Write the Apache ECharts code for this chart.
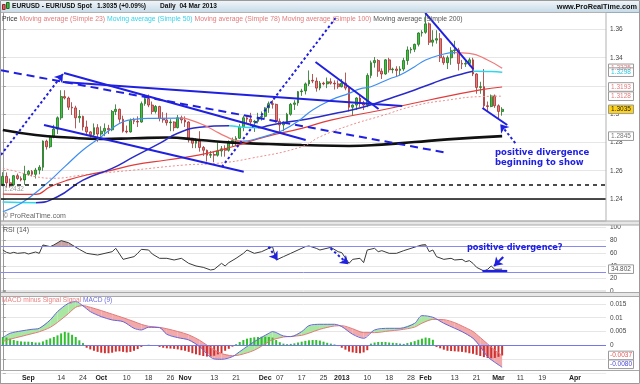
<!DOCTYPE html>
<html><head><meta charset="utf-8"><title>EURUSD</title>
<script src="https://cdn.jsdelivr.net/npm/echarts/dist/echarts.min.js"></script>
<style>html,body{margin:0;padding:0;background:#fff;}#chart{width:640px;height:384px;}</style>
</head><body><div id="chart"></div>
<script>
// ================= DATA =================
const monthDays = [
  ['2012-08',[23,24,27,28,29,30,31]],
  ['2012-09',[3,4,5,6,7,10,11,12,13,14,17,18,19,20,21,24,25,26,27,28]],
  ['2012-10',[1,2,3,4,5,8,9,10,11,12,15,16,17,18,19,22,23,24,25,26,29,30,31]],
  ['2012-11',[1,2,5,6,7,8,9,12,13,14,15,16,19,20,21,22,23,26,27,28,29,30]],
  ['2012-12',[3,4,5,6,7,10,11,12,13,14,17,18,19,20,21,24,25,26,27,28,31]],
  ['2013-01',[1,2,3,4,7,8,9,10,11,14,15,16,17,18,21,22,23,24,25,28,29,30,31]],
  ['2013-02',[1,4,5,6,7,8,11,12,13,14,15,18,19,20,21,22,25,26,27,28]],
  ['2013-03',[1,4,5,6,7,8,11,12,13,14,15,18,19,20,21,22,25,26,27,28,29]],
  ['2013-04',[1,2,3,4,5,8,9,10,11]]
];
const tickDates = ['2012-09-03','2012-09-14','2012-09-24','2012-10-01','2012-10-10','2012-10-18','2012-10-26','2012-11-01','2012-11-13','2012-11-21','2012-12-03','2012-12-07','2012-12-17','2012-12-25','2013-01-01','2013-01-10','2013-01-18','2013-01-28','2013-02-01','2013-02-13','2013-02-21','2013-03-01','2013-03-11','2013-03-19','2013-04-01'];
const tickTexts = ['Sep','14','24','Oct','10','18','26','Nov','13','21','Dec','07','17','25','2013','10','18','28','Feb','13','21','Mar','11','19','Apr'];

// daily candles [open, high, low, close]
const ohlc = [
  // Aug
  [1.2505,1.2590,1.2490,1.2560],[1.2560,1.2588,1.2480,1.2515],[1.2515,1.2545,1.2480,1.2500],[1.2500,1.2570,1.2490,1.2565],
  [1.2565,1.2580,1.2535,1.2545],[1.2545,1.2560,1.2525,1.2535],[1.2535,1.2635,1.2500,1.2575],
  // Sep
  [1.2575,1.2605,1.2565,1.2595],[1.2595,1.2605,1.2560,1.2575],[1.2575,1.2620,1.2545,1.2605],[1.2605,1.2640,1.2575,1.2625],
  [1.2625,1.2815,1.2600,1.2810],[1.2810,1.2820,1.2750,1.2770],[1.2770,1.2850,1.2760,1.2840],[1.2840,1.2925,1.2830,1.2895],
  [1.2895,1.2985,1.2860,1.2975],[1.2975,1.3170,1.2960,1.3125],[1.3125,1.3170,1.3105,1.3115],[1.3115,1.3125,1.3030,1.3050],
  [1.3050,1.3085,1.2995,1.3045],[1.3045,1.3060,1.2900,1.2975],[1.2975,1.3030,1.2940,1.2985],[1.2985,1.2990,1.2885,1.2910],
  [1.2910,1.2955,1.2860,1.2875],[1.2875,1.2880,1.2835,1.2855],[1.2855,1.2935,1.2840,1.2905],[1.2905,1.2930,1.2805,1.2860],
  // Oct
  [1.2860,1.2915,1.2830,1.2880],[1.2880,1.2935,1.2845,1.2900],[1.2900,1.2925,1.2860,1.2890],[1.2890,1.3030,1.2880,1.3020],
  [1.3020,1.3070,1.2995,1.3035],[1.3035,1.3040,1.2940,1.2965],[1.2965,1.2990,1.2870,1.2880],[1.2880,1.2920,1.2865,1.2875],
  [1.2875,1.2970,1.2870,1.2955],[1.2955,1.2975,1.2930,1.2950],[1.2950,1.2985,1.2910,1.2945],[1.2945,1.3090,1.2940,1.3075],
  [1.3075,1.3140,1.3060,1.3110],[1.3110,1.3140,1.3050,1.3065],[1.3065,1.3090,1.3000,1.3020],[1.3020,1.3065,1.3005,1.3055],
  [1.3055,1.3060,1.2950,1.2970],[1.2970,1.3015,1.2940,1.2960],[1.2960,1.3010,1.2920,1.2940],[1.2940,1.2965,1.2880,1.2945],
  [1.2945,1.2950,1.2880,1.2905],[1.2905,1.2995,1.2900,1.2975],[1.2975,1.2990,1.2935,1.2960],
  // Nov
  [1.2960,1.2985,1.2910,1.2945],[1.2945,1.2950,1.2800,1.2830],[1.2830,1.2830,1.2760,1.2795],[1.2795,1.2830,1.2760,1.2810],
  [1.2810,1.2880,1.2735,1.2765],[1.2765,1.2775,1.2705,1.2745],[1.2745,1.2750,1.2665,1.2710],[1.2710,1.2740,1.2690,1.2715],
  [1.2715,1.2735,1.2660,1.2710],[1.2710,1.2800,1.2700,1.2740],[1.2740,1.2775,1.2700,1.2755],[1.2755,1.2780,1.2700,1.2745],
  [1.2745,1.2815,1.2735,1.2805],[1.2805,1.2835,1.2770,1.2815],[1.2815,1.2845,1.2775,1.2830],[1.2830,1.2930,1.2825,1.2910],
  [1.2910,1.2990,1.2880,1.2975],[1.2975,1.2990,1.2935,1.2965],[1.2965,1.3010,1.2915,1.2945],[1.2945,1.2960,1.2875,1.2950],
  [1.2950,1.3010,1.2935,1.2980],[1.2980,1.3020,1.2955,1.2985],
  // Dec
  [1.2985,1.3050,1.2975,1.3045],[1.3045,1.3090,1.3010,1.3075],[1.3075,1.3100,1.3040,1.3070],[1.3070,1.3075,1.2940,1.2950],
  [1.2950,1.2970,1.2875,1.2925],[1.2925,1.2950,1.2880,1.2940],[1.2940,1.3010,1.2930,1.3000],[1.3000,1.3080,1.2990,1.3070],
  [1.3070,1.3100,1.3030,1.3080],[1.3080,1.3165,1.3060,1.3160],[1.3160,1.3180,1.3130,1.3165],[1.3165,1.3225,1.3140,1.3215],
  [1.3215,1.3310,1.3200,1.3240],[1.3240,1.3285,1.3220,1.3235],[1.3235,1.3260,1.3160,1.3185],[1.3185,1.3235,1.3170,1.3220],
  [1.3220,1.3230,1.3205,1.3215],[1.3215,1.3260,1.3185,1.3230],[1.3230,1.3255,1.3210,1.3220],[1.3220,1.3240,1.3175,1.3215],
  [1.3215,1.3240,1.3180,1.3195],
  // Jan
  [1.3195,1.3250,1.3190,1.3220],[1.3220,1.3295,1.3170,1.3185],[1.3185,1.3195,1.3020,1.3050],[1.3050,1.3070,1.2995,1.3065],
  [1.3065,1.3120,1.3030,1.3115],[1.3115,1.3135,1.3050,1.3080],[1.3080,1.3095,1.3030,1.3065],[1.3065,1.3290,1.3050,1.3275],
  [1.3275,1.3380,1.3255,1.3365],[1.3365,1.3405,1.3330,1.3380],[1.3380,1.3390,1.3265,1.3305],[1.3305,1.3325,1.3250,1.3285],
  [1.3285,1.3390,1.3280,1.3385],[1.3385,1.3400,1.3295,1.3315],[1.3315,1.3330,1.3290,1.3320],[1.3320,1.3340,1.3265,1.3310],
  [1.3310,1.3340,1.3275,1.3320],[1.3320,1.3400,1.3305,1.3380],[1.3380,1.3480,1.3350,1.3455],[1.3455,1.3475,1.3430,1.3460],
  [1.3460,1.3500,1.3440,1.3495],[1.3495,1.3580,1.3480,1.3575],[1.3575,1.3595,1.3550,1.3580],
  // Feb
  [1.3580,1.3711,1.3570,1.3640],[1.3640,1.3650,1.3490,1.3510],[1.3510,1.3595,1.3480,1.3525],[1.3525,1.3595,1.3500,1.3535],
  [1.3535,1.3575,1.3370,1.3400],[1.3400,1.3415,1.3350,1.3365],[1.3365,1.3415,1.3320,1.3400],[1.3400,1.3475,1.3350,1.3450],
  [1.3450,1.3520,1.3425,1.3455],[1.3455,1.3470,1.3310,1.3360],[1.3360,1.3385,1.3320,1.3355],[1.3355,1.3380,1.3335,1.3360],
  [1.3360,1.3400,1.3340,1.3385],[1.3385,1.3400,1.3270,1.3285],[1.3285,1.3290,1.3145,1.3190],[1.3190,1.3230,1.3145,1.3195],
  [1.3195,1.3320,1.3040,1.3060],[1.3060,1.3090,1.3020,1.3055],[1.3055,1.3140,1.3050,1.3130],[1.3130,1.3140,1.3045,1.3060],
  // Mar
  [1.3060,1.3070,1.2965,1.3020],[1.3020,1.3050,1.2990,1.3035]
];

// moving averages: [day index, value]
const sma23 = [[0,1.2310],[5,1.2370],[11,1.2487],[17,1.2629],[22,1.2747],[27,1.2841],[30,1.2901],[33,1.2947],[36,1.2964],[41,1.2971],[49,1.2973],[52,1.2955],[55,1.2925],[58,1.2885],[61,1.2845],[64,1.2815],[66,1.2810],[70,1.2830],[74,1.2860],[77,1.2889],[81,1.2950],[85,1.3030],[90,1.3100],[95,1.3148],[98,1.3180],[101,1.3195],[106,1.3250],[109,1.3278],[113,1.3337],[116,1.3384],[120,1.3419],[124,1.3436],[128,1.3431],[133,1.3384],[137,1.3325]];
const sma23Falling = [[49,66],[124,137]];
const sma50 = [[0,1.2378],[9,1.2374],[15,1.2416],[22,1.2534],[30,1.2617],[36,1.2700],[43,1.2794],[48,1.2865],[54,1.2908],[62,1.2918],[66,1.2908],[70,1.2905],[73,1.2920],[78,1.2945],[82,1.2959],[85,1.2973],[92,1.3010],[99,1.3051],[106,1.3110],[113,1.3172],[118,1.3220],[122,1.3257],[126,1.3285],[130,1.3305],[134,1.3302],[137,1.3298]];
const sma50Falling = [[0,9],[62,70],[129,137]];
const sma78 = [[0,1.2435],[9,1.2433],[13,1.2487],[18,1.2535],[23,1.2570],[30,1.2605],[36,1.2641],[45,1.2676],[54,1.2712],[63,1.2770],[72,1.2840],[82,1.2900],[90,1.2959],[104,1.3030],[117,1.3101],[131,1.3172],[137,1.3193]];
const sma100 = [[0,1.2617],[4,1.2593],[9,1.2558],[14,1.2547],[22,1.2570],[36,1.2605],[50,1.2641],[59,1.2653],[68,1.2688],[82,1.2770],[87,1.2840],[95,1.2920],[104,1.2990],[113,1.3060],[122,1.3100],[131,1.3125],[137,1.3128]];
const sma200 = [[0,1.2888],[9,1.2853],[18,1.2835],[27,1.2825],[36,1.2830],[45,1.2835],[54,1.2818],[63,1.2799],[73,1.2789],[82,1.2782],[95,1.2775],[104,1.2785],[113,1.2803],[122,1.2822],[137,1.2845]];

// horizontal levels and hand-drawn trend lines (day index, price)
const levelDashed = 1.2522;
const levelSolid = 1.2433;
const trendSolid = [
  [[16.5,1.3228],[109.6,1.3058]],
  [[16.8,1.3292],[83.1,1.2818]],
  [[11.3,1.2924],[66.1,1.2593]],
  [[85.8,1.3370],[103.1,1.3037]],
  [[115.9,1.3717],[129.1,1.3320]],
  [[131.6,1.3044],[138.4,1.2924]]
];
const trendDashed = [[[-0.49,1.3311],[122.0,1.2726]]];
const trendDotted = [[[60.1,1.2627],[91.3,1.3681]]];
const trendDottedArrow = [[[-0.49,1.2712],[16.5,1.3285]],[[140.6,1.2796],[136.5,1.2930]]];

// RSI(14)
const rsi = [[0,64.5],[1,60.9],[2,59.3],[3,60.9],[4,59.3],[6,60.4],[7,58.3],[9,61.4],[10,59.3],[11,72.3],[13,69.7],[14,72.3],[16,79.0],[18,75.9],[19,72.3],[21,65.5],[23,59.3],[26,56.7],[30,61.9],[31,67.1],[33,50.0],[36,54.2],[37,59.3],[38,65.5],[40,64.5],[41,58.3],[43,51.6],[45,51.6],[47,49.0],[49,51.6],[51,43.8],[53,39.7],[55,37.6],[57,33.5],[58,34.5],[60,43.8],[61,39.7],[62,44.9],[64,51.6],[66,59.3],[67,64.5],[69,59.3],[71,61.9],[73,67.1],[74,69.7],[75,49.0],[77,54.2],[79,59.3],[81,64.5],[83,69.7],[84,70.7],[86,67.1],[87,64.5],[90,68.6],[92,61.9],[93,60.4],[95,43.8],[96,50.0],[98,51.6],[99,44.9],[100,64.5],[102,67.1],[103,61.9],[104,63.5],[106,59.3],[108,59.3],[110,63.5],[112,67.1],[114,70.7],[115,72.3],[116,72.8],[117,61.9],[118,64.5],[119,54.2],[121,50.0],[123,51.6],[124,49.0],[126,50.0],[127,46.4],[128,48.0],[129,43.8],[130,37.6],[132,31.9],[133,34.5],[134,39.7],[135,34.5],[137,34.802]];
const rsiLevels = [70, 30];
const rsiDottedArrow = [[[72.9,69.6],[75.4,49.0]],[[89.9,67.1],[94.8,42.3]]];
const rsiSolidArrow = [[[137.3,53.6],[134.8,39.7]]];
const rsiFlat = [[[131.6,31.9],[138.4,31.9]]];

// MACD (in thousandths)
const macdIdx =    [0,2,5,8,10,13,15,18,20,22,24,27,30,33,36,38,40,43,45,48,51,54,58,60,63,65,69,73,74,77,79,82,84,87,91,93,96,99,102,106,109,113,115,118,121,124,126,129,131,133,135,137];
const macdLine =   [2.77,4.35,5.19,5.80,6.16,9.19,12.22,15.24,15.85,14.3,12.22,10.4,9.19,8.58,6.16,5.56,6.53,6.40,3.98,2.77,1.93,-0.50,-4.98,-5.10,-4.13,-2.31,1.32,4.35,4.95,3.38,3.14,4.95,7.13,7.62,7.62,6.77,3.98,2.53,5.56,6.16,6.16,7.98,10.76,10.16,7.98,6.16,4.95,2.53,-0.50,-4.13,-6.19,-8.0];
const signalLine = [1.32,2.2,3.2,4.2,4.9,6.5,8.3,11.5,13.8,14.4,13.8,12.6,11.3,10.0,8.6,7.6,6.9,6.5,6.0,5.0,3.8,1.8,-1.7,-3.0,-3.8,-3.5,-1.8,1.3,2.0,3.0,3.2,3.6,4.4,5.8,7.0,7.1,6.0,4.6,4.6,5.2,5.6,6.6,8.0,9.4,9.3,8.2,7.0,5.0,2.8,0.5,-1.8,-3.7];
const macdHist = [
  3.0,2.8,2.4,1.9,1.6,1.4,1.3,
  1.3,1.2,1.0,1.0,1.4,2.0,2.5,3.0,3.6,4.3,4.9,4.6,3.8,3.0,1.8,0.8,-0.9,-1.5,-2.0,-2.4,
  -2.7,-2.9,-2.9,-2.7,-2.3,-2.2,-2.4,-2.6,-2.4,-2.0,-1.4,-0.6,-0.1,0.2,0.1,-0.2,-0.6,-0.9,-1.1,-1.2,-1.3,-1.5,-1.8,
  -2.0,-2.4,-2.9,-3.3,-3.6,-3.9,-4.1,-4.1,-3.8,-3.3,-2.8,-2.0,-1.3,-0.5,0.4,1.2,1.9,2.4,2.7,2.9,3.0,3.1,
  3.1,3.0,2.8,1.9,1.1,0.6,0.4,0.5,0.7,1.0,1.3,1.6,1.8,1.9,1.9,1.7,1.3,0.9,0.6,0.3,-0.3,
  -0.9,-1.6,-2.3,-2.6,-2.8,-2.9,-2.6,-1.8,0.6,1.0,1.2,1.2,1.2,1.0,0.9,0.8,0.6,0.5,0.8,1.1,1.5,2.0,2.4,
  2.8,2.6,2.0,-0.6,-1.1,-1.6,-2.0,-2.1,-2.2,-2.3,-2.4,-2.6,-2.9,-3.1,-3.5,-3.9,-4.3,-4.6,-4.7,-4.6,
  -4.2,-3.7
];

// ================= BUILD =================
const FONT = "'Liberation Sans', Arial, sans-serif";
const BLUE = '#2020e0';
const dates = [];
monthDays.forEach(([m, ds]) => ds.forEach(d => dates.push(m + '-' + String(d).padStart(2, '0'))));
const N = dates.length;
const candleData = ohlc.map(([o, h, l, c]) => [o, c, l, h]);
const last = arr => arr[arr.length - 1];

function rangesToPieces(ranges, up, down) {
  const pieces = []; let cur = -1000;
  ranges.forEach(([a, b]) => {
    if (a > cur) pieces.push({ gt: cur, lt: a, color: up });
    pieces.push({ gte: a, lte: b, color: down });
    cur = b;
  });
  pieces.push({ gt: cur, lte: 1000, color: up });
  return pieces;
}
const segs = (pairs, arrow) => pairs.map(([a, b]) => [{ coord: a, symbol: 'none' }, { coord: b, symbol: arrow ? 'arrow' : 'none', symbolSize: 8 }]);
const mk = (data, lineStyle) => ({ silent: true, animation: false, symbol: 'none', symbolSize: 8, label: { show: false }, emphasis: { disabled: true }, lineStyle, data });

const catAxis = (gi, showLabels) => ({
  type: 'category', gridIndex: gi, data: dates, boundaryGap: true,
  axisLine: { show: false }, axisTick: { show: false }, splitLine: { show: false },
  axisLabel: showLabels ? {
    show: true, hideOverlap: false, fontSize: 7, color: '#333', margin: 2,
    interval: (i, v) => tickDates.indexOf(v) >= 0,
    formatter: v => { const t = tickTexts[tickDates.indexOf(v)]; return /^[A-Z]|2013/.test(t) ? '{m|' + t + '}' : t; },
    rich: { m: { fontWeight: 'bold', fontSize: 7, color: '#222', fontFamily: FONT } }
  } : { show: false }
});
const valAxis = gi => ({ type: 'value', gridIndex: gi, min: -0.5, max: N - 0.5, show: false, splitLine: { show: false } });
const yAx = (gi, min, max, interval, fmt) => ({
  type: 'value', gridIndex: gi, position: 'right', min, max, interval,
  axisLine: { show: true, lineStyle: { color: '#9a9a9a' } },
  axisTick: { show: true, length: 3, lineStyle: { color: '#9a9a9a' } },
  axisLabel: { fontSize: 6.5, color: '#444', margin: 4, formatter: fmt, hideOverlap: false },
  splitLine: { show: true, lineStyle: { color: '#e6e6e6', width: 1 } }
});

const series = [];
const push = s => { series.push(s); return series.length - 1; };

// price panel
push({ type: 'candlestick', xAxisIndex: 0, yAxisIndex: 0, data: candleData, barWidth: 2.3, z: 3, silent: true,
  itemStyle: { color: '#3ac83a', color0: '#ee7b7b', borderColor: '#226f22', borderColor0: '#a03030', borderWidth: 0.8 } });
const lineS = (data, ls, z, extra) => Object.assign({ type: 'line', xAxisIndex: 1, yAxisIndex: 0, data, showSymbol: false, smooth: true, silent: true, z, lineStyle: ls }, extra || {});
push(lineS(sma200, { color: '#111', width: 2.6 }, 4));
push(lineS(sma100, { color: '#ef8c8c', width: 1, type: [2, 2] }, 4));
push(lineS(sma78, { color: '#e23b3b', width: 1.2 }, 4));
const iSma50 = push(lineS(sma50, { width: 1.5 }, 4));
const iSma23 = push(lineS(sma23, { width: 1.2 }, 4));
push(lineS([], {}, 6, { markLine: mk([
  { yAxis: levelDashed, lineStyle: { color: '#111', width: 1.5, type: [4, 4] } },
  { yAxis: levelSolid, lineStyle: { color: '#111', width: 1.5, type: 'solid' } },
  ...segs(trendSolid, false)
], { color: BLUE, width: 2, type: 'solid' }) }));
push(lineS([], {}, 6, { markLine: mk(segs(trendDashed, false), { color: BLUE, width: 2, type: [8, 5] }) }));
push(lineS([], {}, 6, { markLine: mk([...segs(trendDotted, false), ...segs(trendDottedArrow, true)], { color: BLUE, width: 2, type: [2.5, 2.5] }) }));

// RSI panel
const rsiSegs = [];
for (let i = 0; i < rsi.length - 1; i++) rsiSegs.push([rsi[i][0], rsi[i][1], rsi[i + 1][0], rsi[i + 1][1]]);
push({ type: 'custom', coordinateSystem: 'cartesian2d', xAxisIndex: 3, yAxisIndex: 1, z: 2, silent: true,
  dimensions: ['x0', 'r0', 'x1', 'r1'], encode: { x: [0, 2], y: [1, 3] }, data: rsiSegs,
  renderItem: (p, api) => {
    const x0 = api.value(0), r0 = api.value(1), x1 = api.value(2), r1 = api.value(3), L = rsiLevels[0];
    if (r0 <= L && r1 <= L) return null;
    let pts;
    if (r0 >= L && r1 >= L) pts = [[x0, r0], [x1, r1], [x1, L], [x0, L]];
    else if (r0 > L) { const xc = x0 + (r0 - L) / (r0 - r1) * (x1 - x0); pts = [[x0, r0], [xc, L], [x0, L]]; }
    else { const xc = x0 + (L - r0) / (r1 - r0) * (x1 - x0); pts = [[xc, L], [x1, r1], [x1, L]]; }
    return { type: 'polygon', shape: { points: pts.map(q => api.coord(q)) }, style: { fill: '#c9a4a4' } };
  } });
push({ type: 'line', xAxisIndex: 3, yAxisIndex: 1, data: rsi, showSymbol: false, silent: true, z: 3,
  lineStyle: { color: '#3a3a3a', width: 1 },
  markLine: mk(rsiLevels.map(v => ({ yAxis: v })), { color: '#8a8aee', width: 1, type: 'solid' }) });
push({ type: 'line', xAxisIndex: 3, yAxisIndex: 1, data: [], z: 6, markLine: mk(segs(rsiDottedArrow, true), { color: BLUE, width: 2, type: [2.5, 2.5] }) });
push({ type: 'line', xAxisIndex: 3, yAxisIndex: 1, data: [], z: 6, markLine: mk([...segs(rsiSolidArrow, true), ...segs(rsiFlat, false)], { color: BLUE, width: 2.2, type: 'solid' }) });

// MACD panel
const macdSegs = [];
for (let i = 0; i < macdIdx.length - 1; i++) macdSegs.push([macdIdx[i], macdLine[i], signalLine[i], macdIdx[i + 1], macdLine[i + 1], signalLine[i + 1]]);
push({ type: 'custom', coordinateSystem: 'cartesian2d', xAxisIndex: 5, yAxisIndex: 2, z: 1, silent: true,
  dimensions: ['x0', 'm0', 's0', 'x1', 'm1', 's1'], encode: { x: [0, 3], y: [1, 2, 4, 5] }, data: macdSegs,
  renderItem: (p, api) => {
    const x0 = api.value(0), m0 = api.value(1), s0 = api.value(2), x1 = api.value(3), m1 = api.value(4), s1 = api.value(5);
    const d0 = m0 - s0, d1 = m1 - s1, P = (x, y) => api.coord([x, y]);
    const GREEN = '#a9e7a2', PINK = '#f1a9a9';
    const polys = [];
    if (d0 * d1 < 0) {
      const t = d0 / (d0 - d1), xc = x0 + t * (x1 - x0), yc = m0 + t * (m1 - m0);
      polys.push({ pts: [P(x0, m0), P(xc, yc), P(x0, s0)], up: d0 > 0 });
      polys.push({ pts: [P(xc, yc), P(x1, m1), P(x1, s1)], up: d1 > 0 });
    } else polys.push({ pts: [P(x0, m0), P(x1, m1), P(x1, s1), P(x0, s0)], up: d0 + d1 > 0 });
    return { type: 'group', children: polys.map(q => ({ type: 'polygon', shape: { points: q.pts }, style: { fill: q.up ? GREEN : PINK } })) };
  } });
push({ type: 'bar', xAxisIndex: 4, yAxisIndex: 2, data: macdHist, barWidth: 2, z: 2, silent: true,
  itemStyle: { color: p => p.value >= 0 ? '#2fbf2f' : '#cf3232' },
  markLine: mk([{ yAxis: 0 }], { color: '#7676ea', width: 1, type: 'solid' }) });
push({ type: 'line', xAxisIndex: 5, yAxisIndex: 2, data: macdIdx.map((x, i) => [x, signalLine[i]]), showSymbol: false, smooth: 0.3, silent: true, z: 3, lineStyle: { color: '#e47a7a', width: 1 } });
push({ type: 'line', xAxisIndex: 5, yAxisIndex: 2, data: macdIdx.map((x, i) => [x, macdLine[i]]), showSymbol: false, smooth: 0.3, silent: true, z: 3, lineStyle: { color: '#6464dc', width: 1 } });

const near = (a, b) => Math.abs(a - b) < 1e-9;
const option = {
  animation: false,
  textStyle: { fontFamily: FONT },
  grid: [
    { left: 1, right: 34, top: 1.25, height: 226, outerBoundsMode: 'none', containLabel: false },
    { left: 1, right: 34, top: 227.1, height: 64.5, outerBoundsMode: 'none', containLabel: false },
    { left: 1, right: 34, top: 290.2, height: 82.6, outerBoundsMode: 'none', containLabel: false }
  ],
  xAxis: [catAxis(0, false), valAxis(0), catAxis(1, false), valAxis(1), catAxis(2, true), valAxis(2)],
  yAxis: [
    yAx(0, 1.22, 1.38, 0.02, v => (near(v, 1.38) || near(v, 1.22)) ? '' : String(+v.toFixed(2))),
    yAx(1, 0, 100, 20, v => String(v)),
    yAx(2, -10, 20, 5, v => (v >= 20 || v <= -10) ? '' : String(+(v / 1000).toFixed(4)))
  ],
  visualMap: [
    { type: 'piecewise', show: false, seriesIndex: iSma23, dimension: 0, pieces: rangesToPieces(sma23Falling, '#3e8ef0', '#f07a7a') },
    { type: 'piecewise', show: false, seriesIndex: iSma50, dimension: 0, pieces: rangesToPieces(sma50Falling, '#2a2ac8', '#2ed7ec') }
  ],
  series
};

const chart = echarts.init(document.getElementById('chart'), null, { renderer: 'canvas', width: 640, height: 384 });
chart.setOption(option);

// ---------- overlays (frames, titles, value tags) ----------
const T = (x, y, text, st) => ({ type: 'text', x, y, z: 120, silent: true, style: Object.assign({ text, fill: '#333', font: '7px ' + FONT, align: 'left', verticalAlign: 'middle' }, st || {}) });
const R = (x, y, w, h, fill, stroke, z) => ({ type: 'rect', z: z || 110, silent: true, shape: { x, y, width: w, height: h }, style: { fill, stroke: stroke || 'none', lineWidth: stroke ? 1 : 0 } });
const g = [];
g.push(R(0, 0, 640, 12.5, new echarts.graphic.LinearGradient(0, 0, 0, 1, [{ offset: 0, color: '#f2f7fa' }, { offset: 1, color: '#c7dae7' }])));
g.push({ type: 'line', z: 111, silent: true, shape: { x1: 0, y1: 12.5, x2: 640, y2: 12.5 }, style: { stroke: '#97adbf', lineWidth: 1 } });
g.push(R(2.5, 4.5, 2.6, 5, '#e06060', '#8a2a2a', 112));
g.push(R(6.5, 2.5, 2.6, 6, '#3cc03c', '#1f6a1f', 112));
const TF = 'bold 6.6px ' + FONT;
g.push(T(12, 6.5, 'EURUSD - EUR/USD Spot', { font: TF, fill: '#111' }));
g.push(T(97, 6.5, last(ohlc)[3].toFixed(4) + ' (+0.09%)', { font: TF, fill: '#111' }));
g.push(T(160, 6.5, 'Daily  04 Mar 2013', { font: TF, fill: '#111' }));
g.push(T(637, 6.5, 'www.ProRealTime.com', { font: 'bold 7.3px ' + FONT, fill: '#111', align: 'right' }));
// panel frames and separators
g.push({ type: 'rect', z: 111, silent: true, shape: { x: 0.5, y: 12.5, width: 605.5, height: 208.5 }, style: { fill: 'none', stroke: '#b2b2b2', lineWidth: 1 } });
g.push(R(0, 221, 640, 4, '#e7e7e7', '#a8a8a8'));
g.push(R(0, 292.5, 640, 4, '#e7e7e7', '#a8a8a8'));
g.push(R(0.5, 370.5, 605.5, 2.8, '#ffffff'));
g.push({ type: 'line', z: 111, silent: true, shape: { x1: 0, y1: 370.5, x2: 640, y2: 370.5 }, style: { stroke: '#a8a8a8', lineWidth: 1 } });
g.push({ type: 'line', z: 111, silent: true, shape: { x1: 0.5, y1: 12.5, x2: 0.5, y2: 384 }, style: { stroke: '#a8a8a8', lineWidth: 1 } });
g.push({ type: 'rect', z: 111, silent: true, shape: { x: 0.5, y: 0.5, width: 639, height: 383 }, style: { fill: 'none', stroke: '#9a9a9a', lineWidth: 1 } });
// legends / captions
const rs = c => ({ fill: c, fontSize: 6.85, fontFamily: FONT });
g.push({ type: 'text', x: 2, y: 18.8, z: 120, silent: true, style: { text: '{k|Price} {a|Moving average (Simple 23)} {c|Moving average (Simple 50)} {a|Moving average (Simple 78)} {a|Moving average (Simple 100)} {g|Moving average (Simple 200)}', font: '6.85px ' + FONT, verticalAlign: 'middle', rich: { k: rs('#333'), a: rs('#e37b7b'), c: rs('#35d2ea'), g: rs('#555') } } });
g.push(T(3, 216, '\u00a9 ProRealTime.com', { fill: '#666' }));
g.push(T(4, 189.5, '1.2432', { fill: '#9a9a9a', font: '6.5px ' + FONT }));
g.push(T(3, 229.6, 'RSI (14)', { fill: '#555' }));
const rs2 = c => ({ fill: c, fontSize: 6.6, fontFamily: FONT });
g.push({ type: 'text', x: 2, y: 300.5, z: 120, silent: true, style: { text: '{a|MACD minus Signal} {a|Signal} {b|MACD (9)}', font: '6.6px ' + FONT, verticalAlign: 'middle', rich: { a: rs2('#e88383'), b: rs2('#6d6de0') } } });
const ANN = { fill: BLUE, font: "bold 8.5px 'DejaVu Sans', sans-serif" };
g.push(T(495, 152.7, 'positive divergence', ANN));
g.push(T(495, 162.3, 'beginning to show', ANN));
g.push(T(467, 248.3, 'positive divergence?', { fill: BLUE, font: "bold 8.2px 'DejaVu Sans', sans-serif" }));

// value tags at the right, positioned through the axes
const tag = (y, text, color, bg) => {
  g.push(R(608.5, y - 4.3, 25, 8.6, bg || '#fff', '#9a9a9a', 125));
  g.push({ type: 'text', x: 621, y, z: 126, silent: true, style: { text, fill: color, font: '6.5px ' + FONT, align: 'center', verticalAlign: 'middle' } });
};
const py = v => chart.convertToPixel({ yAxisIndex: 0 }, v);
tag(py(last(sma23)[1]), last(sma23)[1].toFixed(4), '#e37b7b');
tag(py(last(sma50)[1]), last(sma50)[1].toFixed(4), '#2ec6e0');
tag(py(last(sma78)[1]), last(sma78)[1].toFixed(4), '#e37b7b');
tag(py(last(sma100)[1]), last(sma100)[1].toFixed(4), '#e37b7b');
tag(py(last(ohlc)[3]), last(ohlc)[3].toFixed(4), '#222', '#ffd21a');
tag(py(last(sma200)[1]), last(sma200)[1].toFixed(4), '#777');
const ry = chart.convertToPixel({ yAxisIndex: 1 }, last(rsi)[1]);
tag(ry, last(rsi)[1].toFixed(3), '#555');
const sy = chart.convertToPixel({ yAxisIndex: 2 }, last(signalLine));
tag(sy, (last(signalLine) / 1000).toFixed(4), '#e05a5a');
tag(sy + 8.8, (last(macdLine) / 1000).toFixed(4), '#4848d8');

chart.setOption({ graphic: g });
</script></body></html>
